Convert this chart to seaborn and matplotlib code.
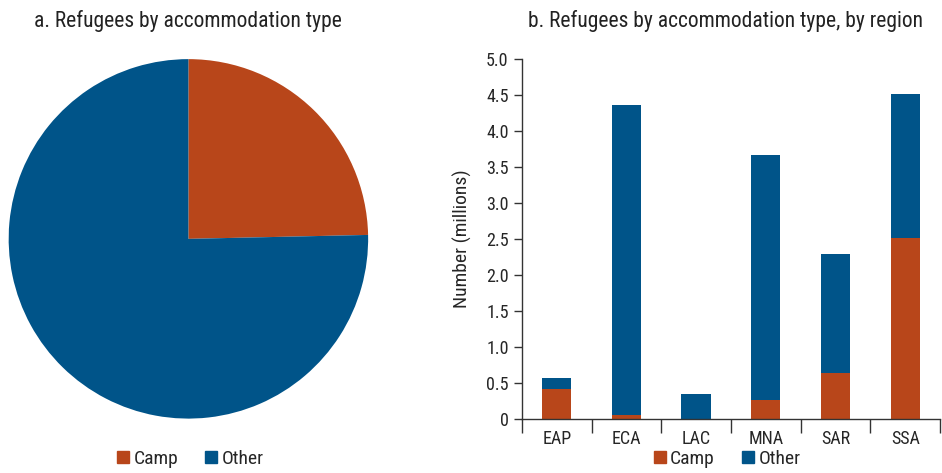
import matplotlib.pyplot as plt
import numpy as np
import pandas as pd
import seaborn as sns
from matplotlib.lines import Line2D
from matplotlib import font_manager

# ===========================
# DATA
# ===========================
regions = ["EAP", "ECA", "LAC", "MNA", "SAR", "SSA"]
camp = [0.42, 0.05, 0.0, 0.26, 0.64, 2.51]
other = [0.15, 4.31, 0.35, 3.40, 1.65, 2.00]
y_ticks = [0, 0.5, 1.0, 1.5, 2.0, 2.5, 3.0, 3.5, 4.0, 4.5, 5.0]
y_tick_labels = ["0", "0.5", "1.0", "1.5", "2.0", "2.5", "3.0", "3.5", "4.0", "4.5", "5.0"]

CAMP_COLOR = "#B8461A"
OTHER_COLOR = "#005489"

sns.set_theme(style="white")
names = {f.name for f in font_manager.fontManager.ttflist}
plt.rcParams["font.family"] = ["Roboto Condensed", "Liberation Sans Narrow", "Roboto", "DejaVu Sans"]
plt.rcParams["font.size"] = 13
narrow = any(n in names for n in ("Roboto Condensed", "Liberation Sans Narrow"))
fs_title = 15.5 if narrow else 14

df = pd.DataFrame({"region": regions, "camp": camp, "other": other})
df["total"] = df["camp"] + df["other"]

fig = plt.figure(figsize=(9.42, 4.73), dpi=100)

# ===========================
# a. PIE
# ===========================
ax_pie = fig.add_axes([0.0, 0.115, 0.4, 0.76])
pie_vals = [df["camp"].sum(), df["other"].sum()]
ax_pie.pie(pie_vals, colors=[CAMP_COLOR, OTHER_COLOR], startangle=90,
           counterclock=False, radius=1.0, wedgeprops={"linewidth": 0})
ax_pie.set_aspect("equal")
ax_pie.set_xlim(-1.0, 1.0)
ax_pie.set_ylim(-1.0, 1.0)
fig.text(0.2, 0.955, "a. Refugees by accommodation type", ha="center", va="center",
         fontsize=fs_title, color="#222222")

# ===========================
# b. STACKED BARS
# ===========================
ax = fig.add_axes([0.554, 0.114, 0.444, 0.762])
sns.barplot(data=df, x="region", y="total", color=OTHER_COLOR, width=0.42,
            saturation=1, linewidth=0, ax=ax)
sns.barplot(data=df, x="region", y="camp", color=CAMP_COLOR, width=0.42,
            saturation=1, linewidth=0, ax=ax)
ax.set_xlim(-0.5, len(regions) - 0.5)
ax.set_ylim(0, 5.0)
ax.set_yticks(y_ticks)
ax.set_yticklabels(y_tick_labels)
ax.set_xlabel("")
ax.set_ylabel("Number (millions)", fontsize=14, labelpad=10)
ax.set_xticks(np.arange(-0.5, len(regions), 1.0), minor=True)
ax.tick_params(axis="x", which="major", length=0, pad=8, labelsize=13)
ax.tick_params(axis="x", which="minor", length=10, width=1, color="#333333",
               direction="out", bottom=True)
ax.tick_params(axis="y", length=6, width=1, color="#333333", direction="out",
               left=True, labelsize=13)
for s in ["top", "right"]:
    ax.spines[s].set_visible(False)
for s in ["left", "bottom"]:
    ax.spines[s].set_color("#333333")
    ax.spines[s].set_linewidth(1)
fig.text(0.77, 0.955, "b. Refugees by accommodation type, by region", ha="center",
         va="center", fontsize=fs_title, color="#222222")

# ===========================
# LEGENDS
# ===========================
handles = [Line2D([], [], marker="s", linestyle="", markersize=8,
                  markerfacecolor=c, markeredgecolor=c) for c in (CAMP_COLOR, OTHER_COLOR)]
for xc in (0.2, 0.77):
    fig.legend(handles, ["Camp", "Other"], loc="center", bbox_to_anchor=(xc, 0.03),
               ncol=2, frameon=False, fontsize=14, handletextpad=0.05,
               columnspacing=1.2, handlelength=1.0)

fig.savefig("out.png", dpi=100)
